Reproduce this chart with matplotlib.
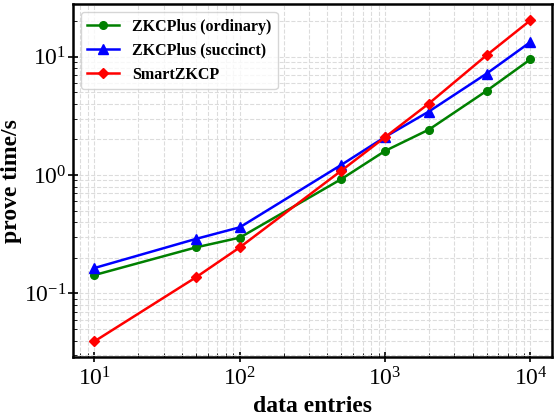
import matplotlib
matplotlib.use("Agg")
import matplotlib.pyplot as plt

# data
entries = [10, 50, 100, 500, 1000, 2000, 5000, 10000]
ordinary = [0.143, 0.245, 0.296, 0.925, 1.6, 2.42, 5.15, 9.5]
succinct = [0.164, 0.289, 0.362, 1.22, 2.1, 3.44, 7.2, 13.3]
smartzkcp = [0.0394, 0.137, 0.245, 1.09, 2.09, 4.02, 10.3, 20.3]

plt.rcParams['font.family'] = ['Liberation Serif', 'DejaVu Serif']
plt.rcParams['mathtext.fontset'] = 'custom'
plt.rcParams['mathtext.rm'] = 'Liberation Serif'
plt.rcParams['mathtext.it'] = 'Liberation Serif:italic'
plt.rcParams['mathtext.bf'] = 'Liberation Serif:bold'

fig, ax = plt.subplots(figsize=(5.59, 4.18), dpi=100)

ax.plot(entries, ordinary, color='green', marker='o', markersize=5.5, lw=1.8, label='ZKCPlus (ordinary)')
ax.plot(entries, succinct, color='blue', marker='^', markersize=6.5, lw=1.8, label='ZKCPlus (succinct)')
ax.plot(entries, smartzkcp, color='red', marker='D', markersize=5.5, lw=1.8, label='SmartZKCP')

ax.set_xscale('log')
ax.set_yscale('log')
ax.grid(True, which='both', ls='--', color='#dcdcdc', lw=0.8)
ax.set_axisbelow(True)

ax.set_xlabel('data entries', fontsize=17, fontweight='bold')
ax.set_ylabel('prove time/s', fontsize=17, fontweight='bold')
ax.yaxis.set_label_coords(-0.105, 0.5)
ax.tick_params(axis='both', which='major', labelsize=17, direction='inout', length=7, width=1.2)
ax.tick_params(axis='y', which='major', pad=1)
ax.tick_params(axis='both', which='minor', direction='in', length=3)
for s in ax.spines.values():
    s.set_linewidth(1.8)

leg = ax.legend(loc='upper left', prop={'weight': 'bold', 'size': 11.5})

fig.subplots_adjust(left=0.13, right=0.988, top=0.99, bottom=0.145)
fig.savefig('out.png', dpi=100)
